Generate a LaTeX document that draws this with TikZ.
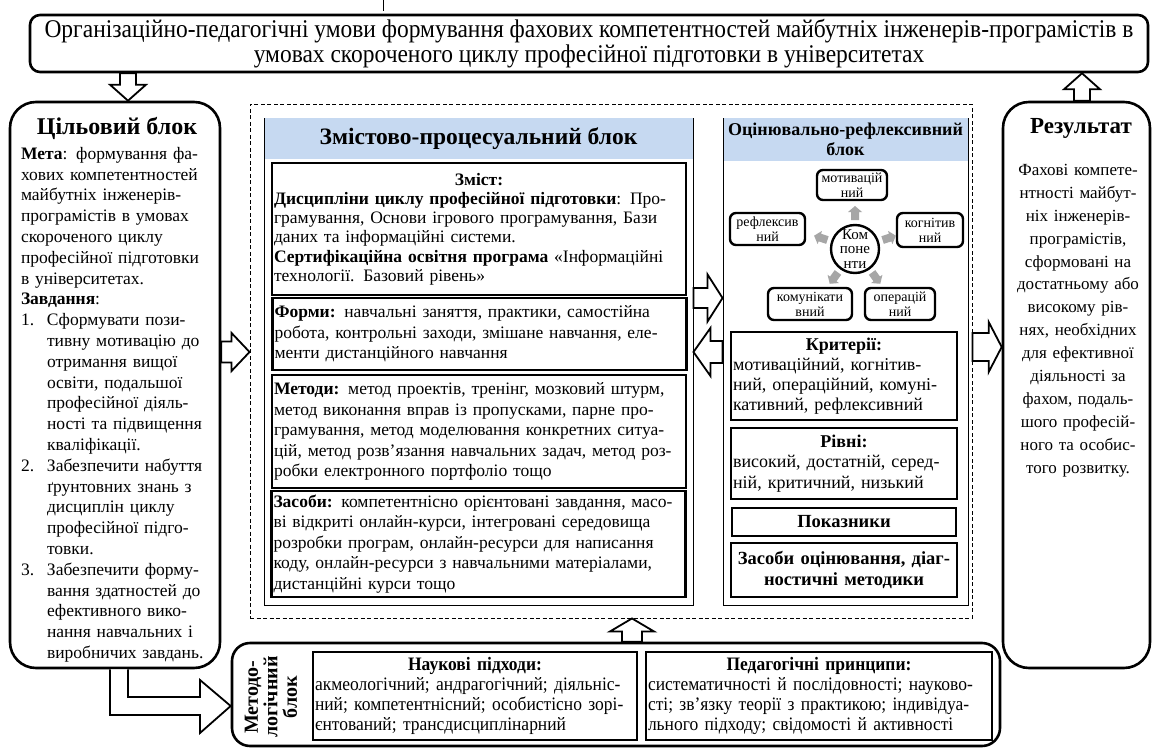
\documentclass[tikz,border=0pt]{standalone}
\usepackage{fontspec}
\setmainfont{Liberation Serif}
\newfontfamily\condfont[FakeStretch=0.92]{Liberation Serif}
\usetikzlibrary{positioning,calc}

\definecolor{headblue}{RGB}{198,217,241}
\definecolor{arrowgray}{RGB}{166,166,166}

\tikzset{
  bigbox/.style={draw, line width=2.6pt, rounded corners=26pt},
  topbox/.style={draw, line width=2.6pt, rounded corners=10pt},
  thinbox/.style={draw, line width=0.9pt},
  subbox/.style={draw, line width=2.2pt, inner sep=2pt},
  compbox/.style={draw, line width=2.4pt, rounded corners=6pt, align=center, inner sep=0.5pt, font=\fontsize{14}{15}\selectfont},
  headfill/.style={fill=headblue, inner sep=0pt},
  hollow/.style={draw, fill=white, line width=1.8pt},
  grayarr/.style={fill=arrowgray, draw=none},
  body/.style={font=\fontsize{17.5}{20.5}\selectfont},
}

\newcommand\blockarrow[6][hollow]{%
  \coordinate (ah) at ($(#3)!#6!(#2)$);
  \draw[#1] ($(#2)!#4!90:(#3)$) -- ($(ah)!#4!90:(#3)$) -- ($(ah)!#5!90:(#3)$)
    -- (#3) -- ($(ah)!#5!-90:(#3)$) -- ($(ah)!#4!-90:(#3)$)
    -- ($(#2)!#4!-90:(#3)$) -- cycle;
}
\newcommand\ind{\hspace*{26pt}}
\newcommand\midline[1]{\hspace*{\fill}\textbf{#1}\hspace*{\fill}\null}

\begin{document}
\begin{tikzpicture}[x=1pt,y=-1pt]
\fill[white] (0,0) rectangle (1159,749);
\useasboundingbox (0,0) rectangle (1159,749);
\draw[line width=1pt] (383,0) -- (383,11);

\node[topbox, minimum width=1118pt, minimum height=57pt, align=center, inner sep=1pt,
  font=\condfont\fontsize{25.5}{25}\selectfont] (org) at (589,43.5)
  {Організаційно-педагогічні умови формування фахових компетентностей майбутніх інженерів-програмістів в\\
   умовах скороченого циклу професійної підготовки в університетах};

% goal block
\node[bigbox, minimum width=210pt, minimum height=566pt] (goal) at (115,385) {};
\node[font=\bfseries\fontsize{24}{26}\selectfont, inner sep=0pt] (goalhead) at (117,128) {Цільовий блок};
\node[font=\fontsize{17.5}{20.8}\selectfont, anchor=north, text width=194pt, align=left, inner sep=0pt] (goaltxt) at (118,147)
  {\textbf{Мета}: формування фа-\\
   хових компетентностей\\
   майбутніх інженерів-\\
   програмістів в умовах\\
   скороченого циклу\\
   професійної підготовки\\
   в університетах.\\
   \textbf{Завдання}:\\
   \makebox[26pt][l]{1.}Сформувати пози-\\
   \ind тивну мотивацію до\\
   \ind отримання вищої\\
   \ind освіти, подальшої\\
   \ind професійної діяль-\\
   \ind ності та підвищення\\
   \ind кваліфікації.\\
   \makebox[26pt][l]{2.}Забезпечити набуття\\
   \ind ґрунтовних знань з\\
   \ind дисциплін циклу\\
   \ind професійної підго-\\
   \ind товки.\\
   \makebox[26pt][l]{3.}Забезпечити форму-\\
   \ind вання здатностей до\\
   \ind ефективного вико-\\
   \ind нання навчальних і\\
   \ind виробничих завдань.};

% result block
\node[bigbox, minimum width=147pt, minimum height=566pt] (res) at (1076.5,385) {};
\node[font=\bfseries\fontsize{23}{25}\selectfont, inner sep=0pt] (reshead) at (1081,128) {Результат};
\node[font=\fontsize{17}{22.9}\selectfont, anchor=north, text width=142pt, align=center, inner sep=0pt] (restxt) at (1078,164)
  {Фахові компете-\\нтності майбут-\\ніх інженерів-\\програмістів,\\сформовані на\\достатньому або\\високому рів-\\нях, необхідних\\для ефективної\\діяльності за\\фахом, подаль-\\шого професій-\\ного та особис-\\того розвитку.};

\node[draw, dash pattern=on 4pt off 2.5pt, line width=0.9pt, minimum width=722pt, minimum height=514pt] (frame) at (611,361) {};

% content and process block
\node[thinbox, minimum width=429pt, minimum height=487pt] (cont) at (478.5,361.5) {};
\node[headfill, minimum width=428pt, minimum height=41pt, anchor=north, font=\bfseries\fontsize{23.5}{25}\selectfont] (conthead) at ([yshift=-0.5pt]cont.north) {Змістово-процесуальний блок};
\node[subbox, font=\fontsize{17.5}{19.2}\selectfont, text width=410pt, minimum height=132pt, align=left] (zmist) at (479,229)
  {\midline{Зміст:}\\
   \textbf{Дисципліни циклу професійної підготовки}: Про-\\
   грамування, Основи ігрового програмування, Бази\\
   даних та інформаційні системи.\\
   \textbf{Сертифікаційна освітня програма} «Інформаційні\\
   технології. Базовий рівень»};
\node[subbox, body, text width=410pt, minimum height=72pt, align=left] (formy) at (479.5,334)
  {\textbf{Форми:} навчальні заняття, практики, самостійна\\
   робота, контрольні заходи, змішане навчання, еле-\\
   менти дистанційного навчання};
\node[subbox, body, text width=410pt, minimum height=113pt, align=left] (metody) at (479,431.5)
  {\textbf{Методи:} метод проектів, тренінг, мозковий штурм,\\
   метод виконання вправ із пропусками, парне про-\\
   грамування, метод моделювання конкретних ситуа-\\
   цій, метод розв’язання навчальних задач, метод роз-\\
   робки електронного портфоліо тощо};
\node[subbox, body, text width=410pt, minimum height=106pt, align=left] (zasoby) at (478.5,544)
  {\textbf{Засоби:} компетентнісно орієнтовані завдання, масо-\\
   ві відкриті онлайн-курси, інтегровані середовища\\
   розробки програм, онлайн-ресурси для написання\\
   коду, онлайн-ресурси з навчальними матеріалами,\\
   дистанційні курси тощо};

% evaluation block
\node[thinbox, minimum width=245pt, minimum height=487pt] (eval) at (845.5,361.5) {};
\node[headfill, minimum width=244pt, minimum height=43pt, anchor=north, align=center, font=\bfseries\fontsize{18}{20}\selectfont] (evalhead) at ([yshift=-0.5pt]eval.north) {Оцінювально-рефлексивний\\блок};
\node[circle, draw, line width=2.4pt, minimum size=48pt, inner sep=0pt] (comp) at (855,249) {};
\node[align=center, inner sep=0pt, font=\fontsize{15}{14.5}\selectfont] (comptxt) at (comp) {Ком\\поне\\нти};
\node[compbox, minimum width=70pt, minimum height=30pt] (mot) at (852,185) {мотивацій\\ний};
\node[compbox, minimum width=75pt, minimum height=32pt] (refl) at (767.5,229) {рефлексив\\ний};
\node[compbox, minimum width=66pt, minimum height=34pt] (kog) at (930,230) {когнітив\\ний};
\node[compbox, minimum width=84pt, minimum height=32pt] (kom) at (810,304) {комунікати\\вний};
\node[compbox, minimum width=70pt, minimum height=32pt] (oper) at (900,304) {операцій\\ний};
\foreach \ang in {-90,-162,-18,126,54} {
  \coordinate (ga) at ($(comp)+(\ang:29)$);
  \coordinate (gb) at ($(comp)+(\ang:43)$);
  \blockarrow[grayarr]{ga}{gb}{4pt}{7pt}{6pt}
}
\node[subbox, font=\fontsize{18}{20}\selectfont, text width=222pt, minimum height=88pt, align=left] (krit) at (844,376)
  {\midline{Критерії:}\\
   мотиваційний, когнітив-\\
   ний, операційний, комуні-\\
   кативний, рефлексивний};
\node[subbox, font=\fontsize{18}{20.5}\selectfont, text width=222pt, minimum height=71pt, align=left] (rivni) at (844,463.5)
  {\midline{Рівні:}\\
   високий, достатній, серед-\\
   ній, критичний, низький};
\node[subbox, text width=222pt, minimum height=28pt, inner sep=1pt, align=center, font=\bfseries\fontsize{18.5}{20}\selectfont] (pokaz) at (844,522) {Показники};
\node[subbox, text width=222pt, minimum height=54pt, align=center, font=\bfseries\fontsize{18.5}{21}\selectfont] (zasoc) at (844,570) {Засоби оцінювання, діаг-\\ностичні методики};

% methodological block
\node[bigbox, rounded corners=18pt, minimum width=768pt, minimum height=103pt] (meth) at (616,694.5) {};
\node[rotate=90, align=center, inner sep=0pt, font=\bfseries\fontsize{20}{19.5}\selectfont] (methlab) at (271,697) {Методо-\\логічний\\блок};
\node[subbox, text width=320pt, minimum height=88pt, align=left, font=\condfont\fontsize{19}{20}\selectfont] (nauk) at (475,696)
  {\midline{Наукові підходи:}\\
   акмеологічний; андрагогічний; діяльніс-\\
   ний; компетентнісний; особистісно зорі-\\
   єнтований; трансдисциплінарний};
\node[subbox, text width=342pt, minimum height=88pt, align=left, font=\condfont\fontsize{19}{20}\selectfont] (ped) at (819,696)
  {\midline{Педагогічні принципи:}\\
   систематичності й послідовності; науково-\\
   сті; зв’язку теорії з практикою; індивідуа-\\
   льного підходу; свідомості й активності};

% block arrows
\coordinate (a1) at (org.south -| 128,0);
\coordinate (a2) at (goal.north -| 128,0);
\blockarrow{a1}{a2}{8pt}{18pt}{16pt}
\coordinate (b1) at (res.north -| 1082,0);
\coordinate (b2) at (org.south -| 1082,0);
\blockarrow{b1}{b2}{8pt}{18pt}{16pt}
\coordinate (c1) at (goal.east |- 0,352);
\coordinate (c2) at (frame.west |- 0,352);
\blockarrow{c1}{c2}{10.5pt}{19pt}{18pt}
\coordinate (d1) at (cont.east |- 0,298);
\coordinate (d2) at (eval.west |- 0,298);
\blockarrow{d1}{d2}{10pt}{23.5pt}{15pt}
\coordinate (e1) at (eval.west |- 0,352);
\coordinate (e2) at (cont.east |- 0,352);
\blockarrow{e1}{e2}{11pt}{24pt}{17pt}
\coordinate (f1) at (frame.east |- 0,347);
\coordinate (f2) at (res.west |- 0,347);
\blockarrow{f1}{f2}{14pt}{25pt}{13pt}
\coordinate (g1) at (meth.north -| 632,0);
\coordinate (g2) at (frame.south -| 632,0);
\blockarrow{g1}{g2}{10pt}{22pt}{13pt}
\draw[hollow] (goal.south -| 110,0) -- (110,715) -- (200,715) -- (200,733)
  -- (meth.west |- 0,706) -- (200,680) -- (200,697) -- (128,697) -- (goal.south -| 128,0);
\end{tikzpicture}
\end{document}
